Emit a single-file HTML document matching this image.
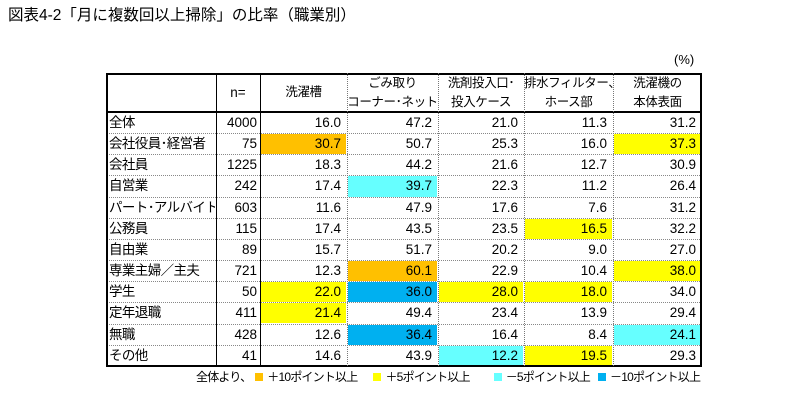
<!DOCTYPE html>
<html><head><meta charset="utf-8">
<style>
body{margin:0;width:810px;height:403px;background:#fff;position:relative;overflow:hidden;font-family:"Liberation Sans","Noto Sans CJK JP",sans-serif;color:#000}
.a{position:absolute;box-sizing:border-box}
.c{font-size:13.5px;line-height:21px;white-space:nowrap}
.h{font-size:12.5px;line-height:19px;text-align:center;white-space:nowrap;letter-spacing:-0.4px}
</style></head><body>
<div class="a" style="left:8px;top:6px;font-size:15.5px;line-height:20px">図表4-2「月に複数回以上掃除」の比率（職業別）</div>
<div class="a" style="left:674px;top:52px;font-size:13px">(%)</div>
<div id="tbl" class="a" style="left:0;top:0;width:810px;height:403px"></div>
<div class="a" style="left:196px;top:369px;font-size:12px;line-height:16px;white-space:nowrap;letter-spacing:-0.8px">全体より、<span style="display:inline-block;width:8px;height:8px;background:#FFC000;margin:0 4px 0 4px"></span>＋10ポイント以上<span style="display:inline-block;width:8px;height:8px;background:#FFFF00;margin:0 4px 0 16px"></span>＋5ポイント以上<span style="display:inline-block;width:8px;height:8px;background:#66FFFF;margin:0 4px 0 24px"></span>－5ポイント以上<span style="display:inline-block;width:8px;height:8px;background:#00B0F0;margin:0 4px 0 8px"></span>－10ポイント以上</div>
<script>
const categories=["全体","会社役員･経営者","会社員","自営業","パート･アルバイト","公務員","自由業","専業主婦／主夫","学生","定年退職","無職","その他"];
const nValues=[4000,75,1225,242,603,115,89,721,50,411,428,41];
const headers=[["洗濯槽"],["ごみ取り","コーナー･ネット"],["洗剤投入口･","投入ケース"],["排水フィルター、","ホース部"],["洗濯機の","本体表面"]];
const s1=[16.0,30.7,18.3,17.4,11.6,17.4,15.7,12.3,22.0,21.4,12.6,14.6];
const s2=[47.2,50.7,44.2,39.7,47.9,43.5,51.7,60.1,36.0,49.4,36.4,43.9];
const s3=[21.0,25.3,21.6,22.3,17.6,23.5,20.2,22.9,28.0,23.4,16.4,12.2];
const s4=[11.3,16.0,12.7,11.2,7.6,16.5,9.0,10.4,18.0,13.9,8.4,19.5];
const s5=[31.2,37.3,30.9,26.4,31.2,32.2,27.0,38.0,34.0,29.4,24.1,29.3];
const series=[s1,s2,s3,s4,s5];
const cols=[106,216,260,347,438,524,613,702];
const top0=73,hdrB=112,rowH=21.15;
const T=document.getElementById('tbl');
function color(v,base){const d=v-base;if(d>=10)return"#FFC000";if(d>=5)return"#FFFF00";if(d<=-10)return"#00B0F0";if(d<=-5)return"#66FFFF";return null;}
function div(l,t,w,h,st){const e=document.createElement('div');e.className='a';e.style.cssText=`left:${l}px;top:${t}px;width:${w}px;height:${h}px;`+(st||'');T.appendChild(e);return e;}
for(let r=0;r<categories.length;r++){
 const y=hdrB+r*rowH;
 const lab=div(cols[0]+3,y,cols[1]-cols[0]-4,rowH,'letter-spacing:-0.6px;overflow:hidden;');lab.classList.add('c');lab.textContent=categories[r];
 
 
 const n=div(cols[1],y,cols[2]-cols[1]-3,rowH,'text-align:right;');n.classList.add('c');n.textContent=nValues[r];
 
 
 for(let k=0;k<5;k++){
  const v=series[k][r];const bg=r>0?color(v,series[k][0]):null;
  const e=div(cols[k+2]+1,y+1,cols[k+3]-cols[k+2]-2,rowH-1,'text-align:right;padding-right:5px;line-height:20px;'+(bg?'background:'+bg+';':''));
  e.classList.add('c');e.textContent=v.toFixed(1);
  
  
 }
 if(r>0){const l=div(cols[0],y,cols[7]-cols[0],1,'border-top:1px dotted #888;');
 
 }
}
const hn=div(cols[1],top0,cols[2]-cols[1],hdrB-top0,'display:flex;align-items:center;justify-content:center;font-size:13.5px;');hn.textContent='n=';


headers.forEach((h,k)=>{const e=div(cols[k+2],top0,cols[k+3]-cols[k+2],hdrB-top0,'display:flex;flex-direction:column;justify-content:center;');e.classList.add('h');e.innerHTML=h.join('<br>');
 
 });
const bottom=hdrB+categories.length*rowH;
const ob=div(cols[0],top0,cols[7]-cols[0],bottom-top0+1,'border:2px solid #000;');


const hb=div(cols[0],hdrB-1,cols[7]-cols[0],2,'background:#000;');


for(let i=1;i<7;i++){const solid=i<=2;const e=div(cols[i],top0,1,bottom-top0,solid?'background:#000;':'border-left:1px dotted #777;');
 
 }
</script>
</body></html>
